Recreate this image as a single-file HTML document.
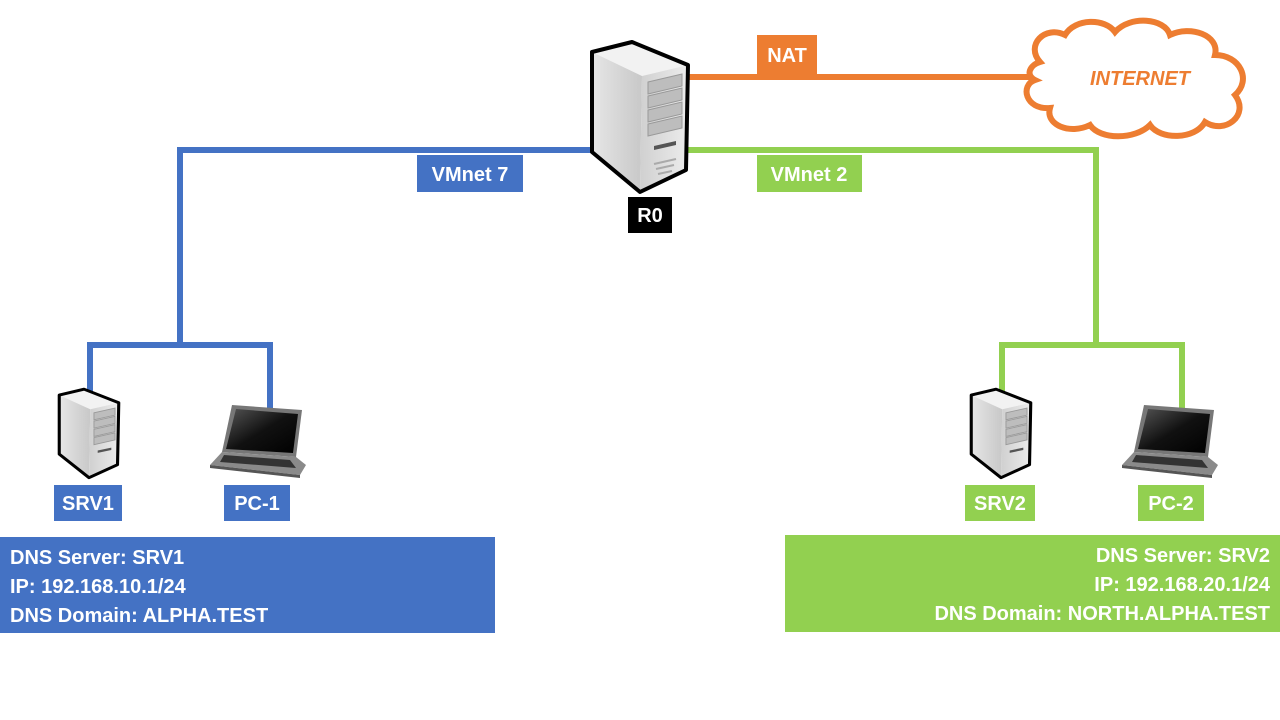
<!DOCTYPE html>
<html><head><meta charset="utf-8"><style>
html,body{margin:0;padding:0;background:#fff}
svg{display:block}
text{font-family:"Liberation Sans",sans-serif;font-weight:bold;fill:#fff}
</style></head><body>
<svg width="1280" height="720" viewBox="0 0 1280 720" xmlns="http://www.w3.org/2000/svg">
<defs>
<linearGradient id="side" x1="0" x2="1" y1="0" y2="0"><stop offset="0" stop-color="#e6e6e6"/><stop offset="1" stop-color="#c8c8c8"/></linearGradient>
<linearGradient id="front" x1="0" x2="1" y1="0" y2="0"><stop offset="0" stop-color="#d0d0d0"/><stop offset="1" stop-color="#ececec"/></linearGradient>
<linearGradient id="scr" x1="0" x2="1" y1="0" y2="1"><stop offset="0" stop-color="#555"/><stop offset="0.5" stop-color="#111"/><stop offset="1" stop-color="#000"/></linearGradient>
</defs>
<g fill="none" stroke-width="6">
<polyline stroke="#4472c4" points="592,150 180,150 180,345 90,345 90,392"/>
<polyline stroke="#4472c4" points="180,345 270,345 270,412"/>
<polyline stroke="#92d050" points="688,150 1096,150 1096,345 1002,345 1002,392"/>
<polyline stroke="#92d050" points="1096,345 1182,345 1182,412"/>
<line stroke="#ed7d31" x1="688" y1="77" x2="1030" y2="77"/>
</g>
<path d="M1040,62 C1025,45 1045,25 1065,35 C1075,18 1105,18 1115,32 C1130,15 1165,18 1170,35 C1190,25 1220,35 1215,55 C1240,55 1252,80 1235,95 C1250,115 1225,135 1205,122 C1195,140 1160,140 1150,125 C1135,140 1100,140 1090,125 C1070,135 1045,125 1050,108 C1025,110 1020,85 1035,80 C1025,75 1030,65 1040,62 Z" fill="#fff" stroke="#ed7d31" stroke-width="6"/>
<text x="1140" y="85" text-anchor="middle" font-size="20" font-style="italic" style="fill:#ed7d31">INTERNET</text>
<g transform="translate(590,40)">
<path d="M2,12 L42,2 L98,25 L52,36 Z" fill="#f2f2f2"/>
<path d="M2,12 L52,36 L50,152 L2,112 Z" fill="url(#side)"/>
<path d="M52,36 L98,25 L96,130 L50,152 Z" fill="url(#front)"/>
<g fill="#bdbdbd" stroke="#999" stroke-width="1">
<path d="M58,42 L92,34 L92,46 L58,54 Z"/><path d="M58,56 L92,48 L92,60 L58,68 Z"/><path d="M58,70 L92,62 L92,74 L58,82 Z"/><path d="M58,84 L92,76 L92,88 L58,96 Z"/>
</g>
<path d="M64,106 L86,101 L86,105 L64,110 Z" fill="#555"/>
<g stroke="#aaa" stroke-width="2"><line x1="64" y1="124" x2="86" y2="119"/><line x1="66" y1="129" x2="84" y2="125"/><line x1="68" y1="134" x2="82" y2="131"/></g>
<path d="M2,12 L42,2 L98,25 L96,130 L50,152 L2,112 Z" fill="none" stroke="#000" stroke-width="4" stroke-linejoin="round"/>
</g>
<g transform="translate(58,388) scale(0.62,0.59)">
<path d="M2,12 L42,2 L98,25 L52,36 Z" fill="#f2f2f2"/>
<path d="M2,12 L52,36 L50,152 L2,112 Z" fill="url(#side)"/>
<path d="M52,36 L98,25 L96,130 L50,152 Z" fill="url(#front)"/>
<g fill="#bdbdbd" stroke="#999" stroke-width="1.5"><path d="M58,42 L92,34 L92,46 L58,54 Z"/><path d="M58,56 L92,48 L92,60 L58,68 Z"/><path d="M58,70 L92,62 L92,74 L58,82 Z"/><path d="M58,84 L92,76 L92,88 L58,96 Z"/></g>
<path d="M64,106 L86,101 L86,105 L64,110 Z" fill="#555"/>
<path d="M2,12 L42,2 L98,25 L96,130 L50,152 L2,112 Z" fill="none" stroke="#000" stroke-width="5" stroke-linejoin="round"/>
</g>
<g transform="translate(970,388) scale(0.62,0.59)">
<path d="M2,12 L42,2 L98,25 L52,36 Z" fill="#f2f2f2"/>
<path d="M2,12 L52,36 L50,152 L2,112 Z" fill="url(#side)"/>
<path d="M52,36 L98,25 L96,130 L50,152 Z" fill="url(#front)"/>
<g fill="#bdbdbd" stroke="#999" stroke-width="1.5"><path d="M58,42 L92,34 L92,46 L58,54 Z"/><path d="M58,56 L92,48 L92,60 L58,68 Z"/><path d="M58,70 L92,62 L92,74 L58,82 Z"/><path d="M58,84 L92,76 L92,88 L58,96 Z"/></g>
<path d="M64,106 L86,101 L86,105 L64,110 Z" fill="#555"/>
<path d="M2,12 L42,2 L98,25 L96,130 L50,152 L2,112 Z" fill="none" stroke="#000" stroke-width="5" stroke-linejoin="round"/>
</g>
<g transform="translate(210,405)">
<path d="M22,0 L92,5 L86,52 L12,47 Z" fill="#777"/>
<path d="M26,4 L88,9 L83,48 L16,44 Z" fill="url(#scr)"/>
<path d="M12,47 L86,52 L96,60 L90,70 L0,60 Z" fill="#8a8a8a"/>
<path d="M14,50 L80,55 L86,63 L10,57 Z" fill="#333"/>
<path d="M0,60 L90,70 L90,73 L0,63 Z" fill="#555"/>
</g>
<g transform="translate(1122,405)">
<path d="M22,0 L92,5 L86,52 L12,47 Z" fill="#777"/>
<path d="M26,4 L88,9 L83,48 L16,44 Z" fill="url(#scr)"/>
<path d="M12,47 L86,52 L96,60 L90,70 L0,60 Z" fill="#8a8a8a"/>
<path d="M14,50 L80,55 L86,63 L10,57 Z" fill="#333"/>
<path d="M0,60 L90,70 L90,73 L0,63 Z" fill="#555"/>
</g>
<rect x="757" y="35" width="60" height="40" fill="#ed7d31"/><text x="787" y="62" text-anchor="middle" font-size="20">NAT</text>
<rect x="417" y="155" width="106" height="37" fill="#4472c4"/><text x="470" y="181" text-anchor="middle" font-size="20">VMnet 7</text>
<rect x="757" y="155" width="105" height="37" fill="#92d050"/><text x="809" y="181" text-anchor="middle" font-size="20">VMnet 2</text>
<rect x="628" y="197" width="44" height="36" fill="#000"/><text x="650" y="222" text-anchor="middle" font-size="20">R0</text>
<rect x="54" y="485" width="68" height="36" fill="#4472c4"/><text x="88" y="510" text-anchor="middle" font-size="20">SRV1</text>
<rect x="224" y="485" width="66" height="36" fill="#4472c4"/><text x="257" y="510" text-anchor="middle" font-size="20">PC-1</text>
<rect x="965" y="485" width="70" height="36" fill="#92d050"/><text x="1000" y="510" text-anchor="middle" font-size="20">SRV2</text>
<rect x="1138" y="485" width="66" height="36" fill="#92d050"/><text x="1171" y="510" text-anchor="middle" font-size="20">PC-2</text>
<rect x="0" y="537" width="495" height="96" fill="#4472c4"/>
<text x="10" y="564" font-size="20">DNS Server: SRV1</text>
<text x="10" y="593" font-size="20">IP: 192.168.10.1/24</text>
<text x="10" y="622" font-size="20">DNS Domain: ALPHA.TEST</text>
<rect x="785" y="535" width="495" height="97" fill="#92d050"/>
<text x="1270" y="562" text-anchor="end" font-size="20">DNS Server: SRV2</text>
<text x="1270" y="591" text-anchor="end" font-size="20">IP: 192.168.20.1/24</text>
<text x="1270" y="620" text-anchor="end" font-size="20">DNS Domain: NORTH.ALPHA.TEST</text>
</svg>
</body></html>
